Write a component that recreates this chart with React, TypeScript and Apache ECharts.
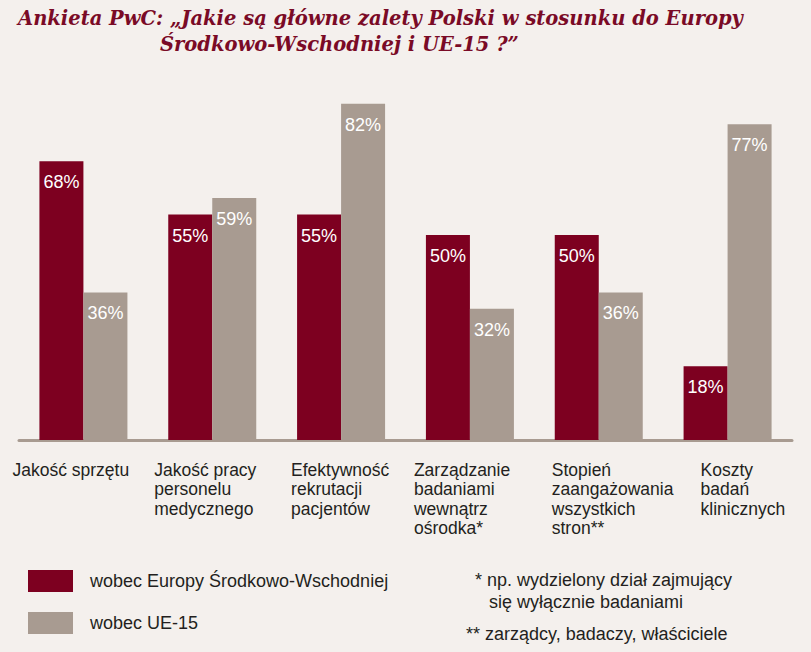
import React, { useEffect, useRef } from "react";
import * as echarts from "echarts";

const categories = [
  "Jakość sprzętu",
  "Jakość pracy\npersonelu\nmedycznego",
  "Efektywność\nrekrutacji\npacjentów",
  "Zarządzanie\nbadaniami\nwewnątrz\nośrodka*",
  "Stopień\nzaangażowania\nwszystkich\nstron**",
  "Koszty\nbadań\nklinicznych",
];
const seriesNames = ["wobec Europy Środkowo-Wschodniej", "wobec UE-15"];
const cee = [68, 55, 55, 50, 50, 18];
const ue15 = [36, 59, 82, 32, 36, 77];
const titleLines = [
  "Ankieta PwC: „Jakie są główne zalety Polski w stosunku do Europy",
  "Środkowo-Wschodniej i UE-15 ?”",
];
const footnotes = [
  "* np. wydzielony dział zajmujący",
  "się wyłącznie badaniami",
  "** zarządcy, badaczy, właściciele",
];

// layout-only: horizontal shift of each category label (px) from its tick
const labelShift = [-71, -58, -50, -56, -47, -27];

const RED = "#7d0020";
const GRAY = "#a89b91";
const BG = "#f4f0ed";
const TEXT = "#231f20";

export default function App() {
  const ref = useRef<HTMLDivElement>(null);
  useEffect(() => {
    if (!ref.current) return;
    const chart = echarts.init(ref.current, undefined, { renderer: "svg" });
    const sans = "'Liberation Sans', Arial, sans-serif";
    const serif = "'DejaVu Serif', Georgia, serif";
    const valueLabel = {
      show: true,
      position: "insideTop" as const,
      distance: 12,
      color: "#ffffff",
      fontFamily: sans,
      fontSize: 18,
      formatter: "{c}%",
    };
    const titleStyle = {
      fontFamily: serif,
      fontStyle: "italic",
      fontWeight: "bold",
      fontSize: 19.5,
      color: "#7a0a26",
    };
    chart.setOption({
      animation: false,
      backgroundColor: BG,
      title: [
        { text: titleLines[0], left: 18, top: 8, padding: 0, textStyle: titleStyle },
        { text: titleLines[1], left: 160, top: 34, padding: 0, textStyle: titleStyle },
      ],
      legend: {
        orient: "vertical",
        left: 28,
        top: 570,
        padding: 0,
        itemWidth: 45,
        itemHeight: 22,
        itemGap: 20,
        icon: "rect",
        textStyle: { fontFamily: sans, fontSize: 18, color: TEXT, padding: [0, 0, 0, 12] },
        data: seriesNames,
      },
      grid: { left: 19, right: 19, top: 30, bottom: 212, containLabel: false },
      xAxis: {
        type: "category",
        data: categories.map((c, i) => ({
          value: c,
          textStyle: { align: "left", padding: [0, 0, 0, labelShift[i]] },
        })),
        offset: 1,
        axisLine: { show: true, lineStyle: { color: GRAY, width: 3 } },
        axisTick: { show: false },
        axisLabel: {
          interval: 0,
          margin: 19,
          fontFamily: sans,
          fontSize: 17.5,
          lineHeight: 19.5,
          color: TEXT,
          verticalAlign: "top",
        },
      },
      yAxis: {
        type: "value",
        min: 0,
        max: 100,
        show: false,
        splitLine: { show: false },
      },
      series: [
        {
          name: seriesNames[0],
          type: "bar",
          data: cee,
          barWidth: 44,
          barGap: "0%",
          itemStyle: { color: RED },
          label: valueLabel,
        },
        {
          name: seriesNames[1],
          type: "bar",
          data: ue15,
          barWidth: 44,
          barGap: "0%",
          itemStyle: { color: GRAY },
          label: valueLabel,
        },
      ],
      graphic: [
        {
          type: "text",
          left: 475,
          top: 571,
          style: { text: footnotes[0], font: `18px ${sans}`, fill: TEXT },
        },
        {
          type: "text",
          left: 489,
          top: 593,
          style: { text: footnotes[1], font: `18px ${sans}`, fill: TEXT },
        },
        {
          type: "text",
          left: 466,
          top: 625,
          style: { text: footnotes[2], font: `18px ${sans}`, fill: TEXT },
        },
      ],
    });
    return () => chart.dispose();
  }, []);
  return (
    <div
      style={{ position: "absolute", left: 0, top: 0, width: 811, height: 652, background: BG }}
    >
      <div ref={ref} style={{ width: 811, height: 652 }} />
    </div>
  );
}
